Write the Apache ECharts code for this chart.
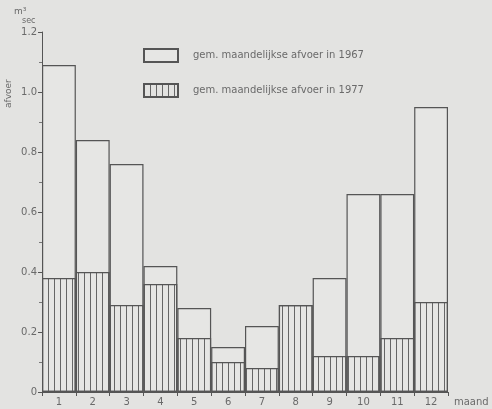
<!DOCTYPE html>
<html>
<head>
<meta charset="utf-8">
<script src="https://cdn.jsdelivr.net/npm/echarts@6/dist/echarts.min.js"></script>
<style>
  html, body { margin: 0; padding: 0; background: #e3e3e1; }
  #chart { width: 492px; height: 409px; }
</style>
</head>
<body>
<div id="chart"></div>
<script>
// Monthly average discharge (m³/sec)
const months = ['1', '2', '3', '4', '5', '6', '7', '8', '9', '10', '11', '12'];
const afvoer1967 = [1.09, 0.84, 0.76, 0.42, 0.28, 0.15, 0.22, 0.29, 0.38, 0.66, 0.66, 0.95];
const afvoer1977 = [0.38, 0.40, 0.29, 0.36, 0.18, 0.10, 0.08, 0.29, 0.12, 0.12, 0.18, 0.30];
const yTicks = [0, 0.2, 0.4, 0.6, 0.8, 1.0, 1.2];

const ink = '#555';
const textInk = '#6a6a6a';

// vertical hatching used for the 1977 bars
function hatchPattern() {
  const c = document.createElement('canvas');
  c.width = 6; c.height = 8;
  const g = c.getContext('2d');
  g.fillStyle = '#666';
  g.fillRect(0, 0, 1, 8);
  return c;
}

const chart = echarts.init(document.getElementById('chart'));
const font = 'DejaVu Sans, Liberation Sans, sans-serif';

chart.setOption({
  backgroundColor: '#e3e3e1',
  animation: false,
  textStyle: { fontFamily: font, color: textInk },
  grid: { left: 42, right: 44, top: 32, bottom: 17 },
  legend: {
    orient: 'vertical',
    left: 138,
    top: 43,
    itemWidth: 34,
    itemHeight: 13,
    itemGap: 20,
    textStyle: { fontSize: 10, color: textInk, padding: [0, 0, 0, 10] },
    data: [
      { name: 'gem. maandelijkse afvoer in 1967', icon: 'rect' },
      { name: 'gem. maandelijkse afvoer in 1977', icon: 'rect' }
    ]
  },
  xAxis: {
    type: 'category',
    data: months,
    axisLine: { lineStyle: { color: ink, width: 1 } },
    axisTick: { show: true, alignWithLabel: false, length: 4, lineStyle: { color: ink } },
    axisLabel: { fontSize: 10, color: textInk, margin: 5 },
    name: 'maand',
    nameLocation: 'end',
    nameGap: 6,
    nameTextStyle: { fontSize: 10, color: textInk, verticalAlign: 'top', padding: [5, 0, 0, 0] }
  },
  yAxis: {
    type: 'value',
    min: yTicks[0],
    max: yTicks[yTicks.length - 1],
    interval: 0.2,
    splitLine: { show: false },
    axisLine: { show: true, lineStyle: { color: ink, width: 1 } },
    axisTick: { show: true, length: 4, lineStyle: { color: ink } },
    minorTick: { show: true, splitNumber: 2, length: 3, lineStyle: { color: '#777' } },
    axisLabel: {
      fontSize: 10, color: textInk, margin: 5,
      formatter: v => (v === 0 ? '0' : v.toFixed(1))
    }
  },
  graphic: [
    {
      type: 'text', left: 14, top: 7,
      style: { text: 'm³', fontSize: 9, fill: textInk, fontFamily: font }
    },
    {
      type: 'text', left: 22, top: 17,
      style: { text: 'sec', fontSize: 8, fill: textInk, fontFamily: font }
    },
    {
      type: 'text', x: 4, y: 108, rotation: Math.PI / 2,
      style: { text: 'afvoer', fontSize: 9, fill: textInk, fontFamily: font }
    }
  ],
  series: [
    {
      name: 'gem. maandelijkse afvoer in 1967',
      type: 'bar',
      data: afvoer1967,
      barCategoryGap: 0,
      barGap: '-100%',
      itemStyle: { color: '#e6e6e4', borderColor: ink, borderWidth: 1.2 }
    },
    {
      name: 'gem. maandelijkse afvoer in 1977',
      type: 'bar',
      data: afvoer1977,
      barCategoryGap: 0,
      barGap: '-100%',
      itemStyle: {
        color: { image: hatchPattern(), repeat: 'repeat' },
        borderColor: ink,
        borderWidth: 1.2
      }
    }
  ]
});
</script>
</body>
</html>
